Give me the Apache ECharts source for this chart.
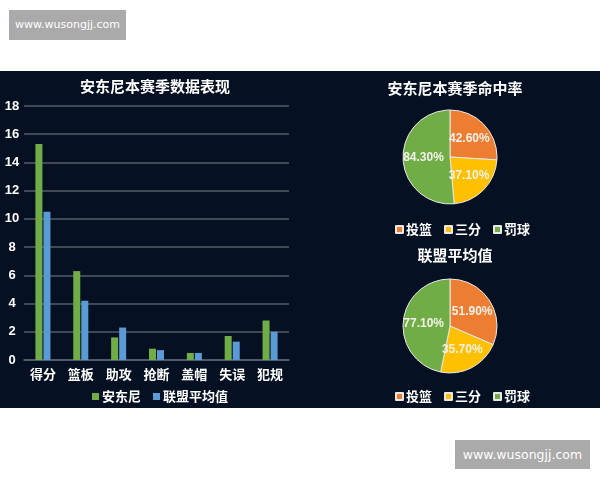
<!DOCTYPE html>
<html>
<head>
<meta charset="utf-8">
<script src="https://cdn.jsdelivr.net/npm/echarts@6/dist/echarts.min.js"></script>
<style>
    html, body { margin: 0; padding: 0; background: #fff; width: 600px; height: 480px; overflow: hidden; }
    #panel { position: absolute; left: 0; top: 71px; width: 600px; height: 337px; background: #061023; }
    .mark { position: absolute; background: #aaaaaa; color: #fff; font-family: "DejaVu Sans", sans-serif; text-align: center; }
    #mark1 { left: 9px; top: 10px; width: 117px; height: 30px; line-height: 30px; font-size: 11px; }
    #mark2 { left: 455px; top: 440px; width: 135px; height: 29px; line-height: 29px; font-size: 12.5px; }
</style>
</head>
<body>
<div class="mark" id="mark1">www.wusongjj.com</div>
<div id="panel"></div>
<div class="mark" id="mark2">www.wusongjj.com</div>
<script>
var categories = ['得分', '篮板', '助攻', '抢断', '盖帽', '失误', '犯规'];
var anthonyStats = [15.3, 6.3, 1.6, 0.8, 0.5, 1.7, 2.8];
var leagueStats = [10.5, 4.2, 2.3, 0.7, 0.5, 1.3, 2.0];
var yTicks = [0, 2, 4, 6, 8, 10, 12, 14, 16, 18];
var shotTypes = ['投篮', '三分', '罚球'];
var anthonyPct = [42.6, 37.1, 84.3];
var leaguePct = [51.9, 35.7, 77.1];

var FONT = '"Noto Sans CJK SC", "Noto Sans", sans-serif';
var pieColors = ['#ed7d31', '#ffc000', '#70ad47'];

function pieData(values) {
    var arr = [];
    for (var i = 0; i < values.length; i++) {
        arr.push({ name: shotTypes[i], value: values[i] });
    }
    return arr;
}

function pieSeries(values, center) {
    return {
        type: 'pie',
        radius: 47,
        center: center,
        startAngle: 90,
        clockwise: true,
        animation: false,
        color: pieColors,
        itemStyle: { borderColor: '#e8e8e8', borderWidth: 1 },
        label: {
            show: true,
            position: 'inside',
            color: '#f4f1ea',
            fontFamily: '"Liberation Sans", Arial, sans-serif',
            fontSize: 12,
            fontWeight: 'bold',
            formatter: function (p) { return p.value.toFixed(2) + '%'; }
        },
        labelLine: { show: false },
        data: pieData(values)
    };
}

function legendStyle(top, left, data) {
    return {
        top: top,
        left: left,
        data: data,
        icon: 'rect',
        itemWidth: 7,
        itemHeight: 7,
        itemGap: 12,
        textStyle: { color: '#ffffff', fontFamily: FONT, fontSize: 13, fontWeight: 'bold', padding: [0, 0, 0, -2] }
    };
}

var option = {
    backgroundColor: '#061023',
    animation: false,
    color: ['#70ad47', '#5b9bd5'],
    title: [{
        text: '安东尼本赛季数据表现', left: 150, top: 3, textAlign: 'center',
        textStyle: { color: '#fff', fontFamily: FONT, fontSize: 15, fontWeight: 'bold' }
    }, {
        text: '安东尼本赛季命中率', left: 450, top: 5, textAlign: 'center',
        textStyle: { color: '#fff', fontFamily: FONT, fontSize: 15, fontWeight: 'bold' }
    }, {
        text: '联盟平均值', left: 450, top: 172, textAlign: 'center',
        textStyle: { color: '#fff', fontFamily: FONT, fontSize: 15, fontWeight: 'bold' }
    }],
    legend: [
        legendStyle(314, 87, ['安东尼', '联盟平均值']),
        legendStyle(147, 390, shotTypes),
        legendStyle(314, 390, shotTypes)
    ],
    grid: { left: 24, right: 311, top: 35, bottom: 48 },
    xAxis: {
        type: 'category',
        data: categories,
        axisLine: { lineStyle: { color: '#59606c', width: 1.5 } },
        axisTick: { show: false },
        axisLabel: { color: '#fff', fontFamily: FONT, fontSize: 13, fontWeight: 'bold', margin: 8 }
    },
    yAxis: {
        type: 'value',
        min: yTicks[0],
        max: yTicks[yTicks.length - 1],
        interval: 2,
        axisLine: { show: false },
        axisTick: { show: false },
        splitLine: { lineStyle: { color: '#545b68', width: 1.5 } },
        axisLabel: { color: '#fff', fontFamily: '"Liberation Sans", Arial, sans-serif', fontSize: 13, fontWeight: 'bold', margin: 12, align: 'center' }
    },
    series: [{
        name: '安东尼',
        type: 'bar',
        barWidth: 7,
        barGap: '15%',
        data: anthonyStats
    }, {
        name: '联盟平均值',
        type: 'bar',
        barWidth: 7,
        data: leagueStats
    },
        pieSeries(anthonyPct, [450, 86]),
        pieSeries(leaguePct, [450, 255])
    ]
};

var chart = echarts.init(document.getElementById('panel'));
chart.setOption(option, true);
</script>
</body>
</html>
